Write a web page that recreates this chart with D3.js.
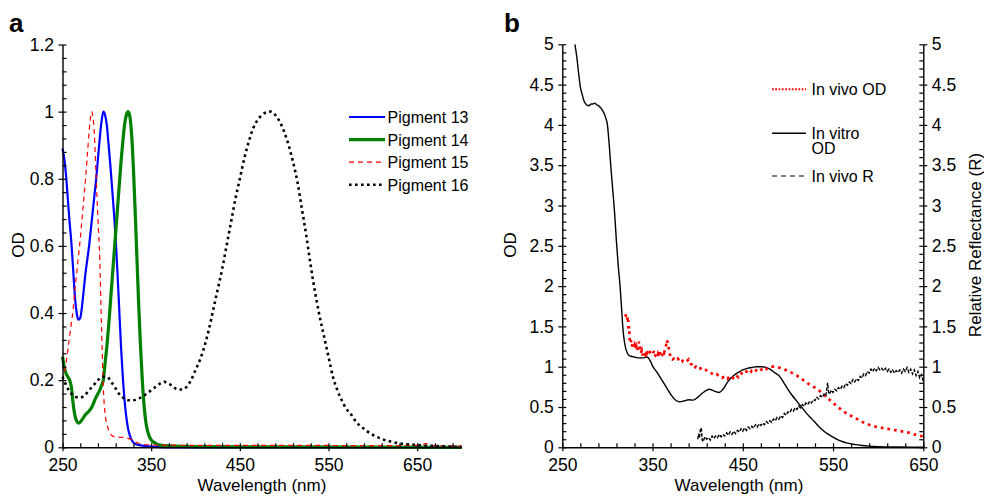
<!DOCTYPE html>
<html>
<head>
<meta charset="utf-8">
<script src="https://cdn.jsdelivr.net/npm/d3@7"></script>
<style>
body { margin: 0; background: #fff; }
svg { font-family: "Liberation Sans", Arial, Helvetica, sans-serif; }
</style>
</head>
<body>
<svg id="drawing_region" width="984" height="496"></svg>
<script>
// ---- panel a : normalised pigment spectra, [wavelength nm, OD] ----
const pigment13 = [[250,0.89],[252,0.86],[254,0.81],[256,0.74],[258,0.67],[260,0.61],[262,0.53],[264,0.45],[266,0.40],[268,0.38],
    [270,0.385],[272,0.42],[274,0.47],[276,0.52],[278,0.56],[280,0.60],[282,0.65],[284,0.70],[286,0.75],[288,0.80],
    [290,0.86],[292,0.92],[294,0.97],[296,1.0],[298,0.99],[300,0.96],[302,0.90],[304,0.84],[306,0.77],[308,0.70],
    [310,0.62],[312,0.52],[314,0.41],[316,0.30],[318,0.21],[320,0.14],[322,0.09],[324,0.055],[326,0.035],[328,0.022],
    [332,0.01],[340,0.005],[350,0.002],[370,0],[700,0]];
const pigment14 = [[250,0.27],[252,0.24],[254,0.22],[256,0.21],[258,0.20],[260,0.18],[262,0.13],[264,0.095],[266,0.078],[268,0.072],
    [270,0.075],[272,0.082],[274,0.09],[276,0.098],[278,0.103],[280,0.108],[282,0.115],[284,0.125],[286,0.138],[288,0.15],
    [290,0.16],[292,0.17],[294,0.185],[296,0.2],[298,0.25],[300,0.3],[302,0.36],[304,0.43],[306,0.5],[308,0.57],
    [310,0.64],[312,0.71],[314,0.78],[316,0.85],[318,0.91],[320,0.96],[322,0.99],[324,1.0],[326,0.985],[328,0.93],
    [330,0.83],[332,0.7],[334,0.56],[336,0.42],[338,0.3],[340,0.2],[342,0.125],[344,0.075],[346,0.048],[348,0.032],
    [350,0.022],[355,0.012],[360,0.007],[370,0.004],[400,0.002],[500,0.001],[700,0]];
const pigment15 = [[250,0.2],[252,0.22],[254,0.25],[256,0.29],[258,0.33],[260,0.37],[262,0.41],[264,0.47],[266,0.52],[268,0.57],
    [270,0.62],[272,0.68],[274,0.74],[276,0.8],[278,0.87],[280,0.94],[282,0.99],[283,1.0],[284,0.99],[286,0.93],[288,0.8],
    [290,0.68],[292,0.56],[294,0.36],[296,0.18],[298,0.1],[300,0.07],[302,0.05],[304,0.04],[306,0.034],[310,0.031],
    [315,0.03],[320,0.029],[325,0.026],[330,0.02],[335,0.013],[340,0.009],[350,0.007],[400,0.006],[500,0.006],
    [600,0.005],[650,0.006],[656,0.008],[660,0.012],[664,0.007],[670,0.005],[700,0.004]];
const pigment16 = [[250,0.21],[255,0.18],[260,0.16],[265,0.15],[270,0.148],[275,0.155],[280,0.17],[285,0.185],[290,0.2],[295,0.21],
    [300,0.21],[305,0.195],[310,0.175],[315,0.155],[320,0.145],[325,0.14],[330,0.14],[335,0.145],[340,0.15],[345,0.16],
    [350,0.17],[355,0.18],[360,0.19],[365,0.195],[370,0.19],[375,0.18],[380,0.172],[385,0.172],[390,0.18],[395,0.2],
    [400,0.23],[405,0.26],[410,0.3],[415,0.35],[420,0.41],[425,0.47],[430,0.53],[435,0.6],[440,0.67],[445,0.74],
    [450,0.8],[455,0.86],[460,0.91],[465,0.95],[470,0.975],[475,0.99],[480,0.998],[485,1.0],[490,0.99],[495,0.97],
    [500,0.94],[505,0.9],[510,0.85],[515,0.79],[520,0.71],[525,0.63],[530,0.54],[535,0.46],[540,0.39],[545,0.33],
    [550,0.27],[555,0.21],[560,0.17],[565,0.14],[570,0.115],[575,0.1],[580,0.08],[585,0.065],[590,0.055],[595,0.045],
    [600,0.037],[610,0.025],[620,0.017],[630,0.012],[640,0.009],[650,0.007],[660,0.005],[670,0.004],[680,0.003],[690,0.002],[700,0.001]];

// ---- panel b : in vivo / in vitro OD and in vivo reflectance ----
const inVitroOD = [[264,5.0],[266,4.85],[268,4.65],[270,4.47],[272,4.38],[274,4.3],[276,4.26],[278,4.24],[280,4.24],[282,4.26],
    [284,4.26],[286,4.27],[288,4.25],[290,4.24],[292,4.22],[294,4.19],[296,4.15],[298,4.09],[300,4.0],[302,3.75],
    [304,3.45],[306,3.18],[308,2.9],[310,2.55],[312,2.25],[314,2.0],[316,1.67],[317,1.5],[318,1.38],[320,1.24],
    [322,1.17],[324,1.14],[326,1.13],[330,1.12],[335,1.11],[340,1.11],[344,1.12],[346,1.1],[348,1.06],[350,1.01],
    [355,0.93],[360,0.84],[365,0.75],[370,0.66],[375,0.59],[378,0.57],[380,0.565],[385,0.575],[390,0.59],[395,0.585],
    [400,0.62],[405,0.67],[410,0.71],[413,0.72],[416,0.71],[420,0.69],[424,0.68],[428,0.72],[432,0.79],[436,0.85],
    [440,0.89],[445,0.93],[450,0.96],[455,0.98],[460,0.99],[465,1.0],[470,1.0],[475,0.995],[480,0.97],[485,0.93],
    [490,0.89],[495,0.81],[500,0.72],[505,0.64],[510,0.57],[515,0.5],[520,0.43],[525,0.37],[530,0.31],[535,0.25],
    [540,0.2],[545,0.16],[550,0.125],[555,0.095],[560,0.072],[565,0.055],[570,0.042],[575,0.033],[580,0.025],[590,0.014],
    [600,0.008],[610,0.005],[620,0.003],[635,0.002],[650,0.002]];
const inVivoOD = [[320,1.65],[321,1.6],[322,1.62],[322.5,1.55],[323,1.58],[323.5,1.45],[324,1.5],[324.5,1.38],[325,1.3],[326,1.33],
    [327,1.25],[328,1.28],[329,1.24],[330,1.27],[331,1.22],[332,1.25],[333,1.2],[334,1.24],[335,1.31],[336,1.22],
    [337,1.17],[338,1.2],[339,1.14],[340,1.19],[342,1.15],[343,1.2],[344,1.17],[346,1.21],[347,1.18],[348,1.16],
    [350,1.15],[351,1.18],[352,1.2],[353,1.14],[355,1.12],[356,1.16],[357,1.13],[358,1.18],[359,1.12],[361,1.15],
    [362,1.2],[363,1.18],[364,1.22],[365,1.27],[366,1.33],[367,1.28],[368,1.23],[369,1.17],[370,1.1],[372,1.09],
    [374,1.1],[376,1.08],[378,1.1],[380,1.07],[382,1.09],[384,1.06],[386,1.05],[388,1.07],[390,1.09],[392,1.04],
    [394,1.02],[396,0.98],[398,1.0],[400,0.97],[403,0.98],[406,0.95],[409,0.96],[412,0.93],[415,0.92],[418,0.9],
    [421,0.91],[424,0.88],[427,0.86],[430,0.88],[433,0.85],[436,0.89],[439,0.86],[442,0.9],[445,0.87],[448,0.92],
    [451,0.9],[454,0.94],[457,0.91],[460,0.95],[463,0.93],[466,0.97],[469,0.95],[472,0.98],[475,0.96],[478,0.99],
    [481,1.0],[485,1.0],[490,0.99],[495,0.97],[500,0.95],[505,0.92],[510,0.89],[515,0.85],[520,0.81],[525,0.77],
    [530,0.74],[535,0.7],[540,0.65],[545,0.6],[550,0.55],[555,0.5],[560,0.46],[565,0.42],[570,0.39],[575,0.36],
    [580,0.33],[585,0.3],[590,0.28],[595,0.26],[600,0.25],[605,0.24],[610,0.23],[615,0.22],[620,0.21],[625,0.2],
    [630,0.19],[635,0.18],[640,0.16],[645,0.15],[650,0.13]];
const inVivoR = [[400,0.10],[401,0.17],[402,0.12],[403,0.22],[404,0.24],[405,0.09],[406,0.07],[408,0.13],[410,0.10],[412,0.12],
    [414,0.09],[416,0.14],[418,0.11],[420,0.14],[422,0.12],[424,0.16],[426,0.13],[428,0.16],[430,0.14],[432,0.18],
    [434,0.15],[436,0.19],[438,0.16],[440,0.20],[442,0.17],[444,0.21],[446,0.19],[448,0.23],[450,0.20],[452,0.24],
    [454,0.21],[456,0.25],[458,0.23],[460,0.26],[462,0.24],[464,0.28],[466,0.25],[468,0.29],[470,0.27],[472,0.30],
    [474,0.28],[476,0.32],[478,0.30],[480,0.33],[482,0.31],[484,0.35],[486,0.33],[488,0.37],[490,0.35],[492,0.39],
    [494,0.37],[496,0.42],[498,0.40],[500,0.44],[502,0.43],[504,0.47],[506,0.45],[508,0.49],[510,0.47],[512,0.51],
    [514,0.49],[516,0.53],[518,0.51],[520,0.55],[522,0.53],[524,0.57],[526,0.55],[528,0.59],[530,0.58],[532,0.62],
    [534,0.60],[536,0.64],[538,0.62],[540,0.66],[542,0.64],[543,0.72],[544,0.80],[545,0.68],[546,0.66],[548,0.71],
    [550,0.68],[552,0.72],[554,0.70],[556,0.74],[558,0.72],[560,0.76],[562,0.74],[564,0.79],[566,0.77],[568,0.81],
    [570,0.79],[572,0.84],[574,0.81],[576,0.85],[578,0.83],[580,0.88],[582,0.86],[584,0.91],[586,0.89],[588,0.94],
    [590,0.92],[592,0.97],[594,0.94],[596,0.98],[598,0.95],[600,0.99],[602,0.96],[604,0.98],[606,0.95],[608,0.98],
    [610,0.94],[612,0.97],[614,0.93],[616,0.96],[618,0.92],[620,0.95],[622,0.93],[624,0.96],[626,0.92],[628,0.97],
    [630,0.94],[632,0.99],[634,0.93],[636,0.97],[638,0.91],[640,0.96],[642,0.89],[644,0.94],[646,0.86],[648,0.90],[650,0.82]];

// tick labels
const xTicksA = [250, 350, 450, 550, 650];
const yTicksA = [0, 0.2, 0.4, 0.6, 0.8, 1, 1.2];
const xTicksB = [250, 350, 450, 550, 650];
const yTicksB = [0, 0.5, 1, 1.5, 2, 2.5, 3, 3.5, 4, 4.5, 5];

const legendA = [
    {name: 'Pigment 13', data: pigment13, color: '#0000ff', width: 2.2, dash: null},
    {name: 'Pigment 14', data: pigment14, color: '#008000', width: 3.2, dash: null},
    {name: 'Pigment 15', data: pigment15, color: '#ff0000', width: 1.2, dash: '5,4'},
    {name: 'Pigment 16', data: pigment16, color: '#000000', width: 2.6, dash: '2.6,3.4'}
];

const svg = d3.select('#drawing_region');
const fmt = d => String(+d.toFixed(2));

function addAxis(axisFn, scale, majors, minors, transform, pad) {
    // minor ticks point into the plot, major ticks cross the axis line
    svg.append('g')
        .attr('transform', transform)
        .call(axisFn(scale).tickValues(minors).tickSize(-4).tickSizeOuter(0).tickFormat(''))
        .call(g => g.select('.domain').remove())
        .selectAll('line').attr('stroke-width', 1.2);
    const g = svg.append('g')
        .attr('transform', transform)
        .call(axisFn(scale).tickValues(majors).tickSizeInner(4).tickSizeOuter(0)
            .tickPadding(pad).tickFormat(fmt));
    g.attr('font-size', 17.5).attr('font-family', null);
    g.selectAll('line').attr('stroke-width', 1.2);
    g.select('.domain').attr('stroke-width', 1.4);
    return g;
}

// ----- panel a -----
const xA = d3.scaleLinear().domain([250, 700]).range([62.5, 461.5]);
const yA = d3.scaleLinear().domain([0, 1.2]).range([447.3, 44.5]);

const smooth = d3.line().x(d => xA(d[0])).y(d => yA(d[1])).curve(d3.curveMonotoneX);

legendA.forEach(s => {
    svg.append('path')
        .datum(s.data)
        .attr('d', smooth)
        .attr('fill', 'none')
        .attr('stroke', s.color)
        .attr('stroke-width', s.width)
        .attr('stroke-dasharray', s.dash);
});

addAxis(d3.axisLeft, yA, yTicksA, d3.range(0, 1.2001, 0.04), 'translate(62.5,0)', 4.5);
addAxis(d3.axisBottom, xA, xTicksA, d3.range(250, 701, 20), 'translate(0,447.3)', 7);

legendA.forEach((s, i) => {
    const yy = 117 + i * 22.6;
    svg.append('line')
        .attr('x1', 349).attr('x2', 385).attr('y1', yy).attr('y2', yy)
        .attr('stroke', s.color).attr('stroke-width', s.width)
        .attr('stroke-dasharray', s.dash);
    svg.append('text')
        .attr('x', 387.5).attr('y', yy + 6)
        .style('font-size', '16px')
        .text(s.name);
});

svg.append('text').attr('x', 262).attr('y', 491)
    .attr('text-anchor', 'middle').style('font-size', '17px')
    .text('Wavelength (nm)');
svg.append('text').attr('transform', 'translate(23.5,245) rotate(-90)')
    .attr('text-anchor', 'middle').style('font-size', '17px')
    .text('OD');
svg.append('text').attr('x', 9).attr('y', 32)
    .style('font-size', '26px').style('font-weight', 'bold')
    .text('a');

// ----- panel b -----
const xB = d3.scaleLinear().domain([250, 650]).range([562.3, 923.3]);
const yB = d3.scaleLinear().domain([0, 5]).range([447.3, 44.3]);
const yR = d3.scaleLinear().domain([0, 5]).range([447.3, 44.3]);

const lineB = d3.line().x(d => xB(d[0])).y(d => yB(d[1]));
const lineR = d3.line().x(d => xB(d[0])).y(d => yR(d[1]));

svg.append('path').datum(inVitroOD)
    .attr('d', lineB.curve(d3.curveMonotoneX))
    .attr('fill', 'none').attr('stroke', '#000').attr('stroke-width', 1.4);
svg.append('path').datum(inVivoOD)
    .attr('d', lineB.curve(d3.curveLinear))
    .attr('fill', 'none').attr('stroke', '#ff0000').attr('stroke-width', 2.7)
    .attr('stroke-dasharray', '2.7,4');
svg.append('path').datum(inVivoR)
    .attr('d', lineR)
    .attr('fill', 'none').attr('stroke', '#000').attr('stroke-width', 1.4)
    .attr('stroke-dasharray', '3.5,1.5');

addAxis(d3.axisLeft, yB, yTicksB, d3.range(0, 5.001, 0.1), 'translate(562.3,0)', 4.5);
addAxis(d3.axisRight, yR, yTicksB, d3.range(0, 5.001, 0.1), 'translate(923.3,0)', 4.5);
addAxis(d3.axisBottom, xB, xTicksB, d3.range(250, 651, 20), 'translate(0,447.3)', 7);

// legend b
const legendB = [
    {lines: ['In vivo OD'], y: 89.3, color: '#ff0000', width: 2, dash: '1.7,1.6'},
    {lines: ['In vitro', 'OD'], y: 133.3, color: '#000', width: 1.4, dash: null},
    {lines: ['In vivo R'], y: 176, color: '#000', width: 1.2, dash: '5,4'}
];
legendB.forEach(s => {
    svg.append('line')
        .attr('x1', 772).attr('x2', 806).attr('y1', s.y).attr('y2', s.y)
        .attr('stroke', s.color).attr('stroke-width', s.width)
        .attr('stroke-dasharray', s.dash);
    s.lines.forEach((t, j) => {
        svg.append('text')
            .attr('x', 811.5).attr('y', s.y + 5.5 + j * 15.5)
            .style('font-size', '16px')
            .text(t);
    });
});

svg.append('text').attr('x', 739).attr('y', 491)
    .attr('text-anchor', 'middle').style('font-size', '17px')
    .text('Wavelength (nm)');
svg.append('text').attr('transform', 'translate(516,245) rotate(-90)')
    .attr('text-anchor', 'middle').style('font-size', '17px')
    .text('OD');
svg.append('text').attr('transform', 'translate(981,245) rotate(-90)')
    .attr('text-anchor', 'middle').style('font-size', '17px')
    .text('Relative Reflectance (R)');
svg.append('text').attr('x', 504).attr('y', 32)
    .style('font-size', '26px').style('font-weight', 'bold')
    .text('b');
</script>
</body>
</html>
